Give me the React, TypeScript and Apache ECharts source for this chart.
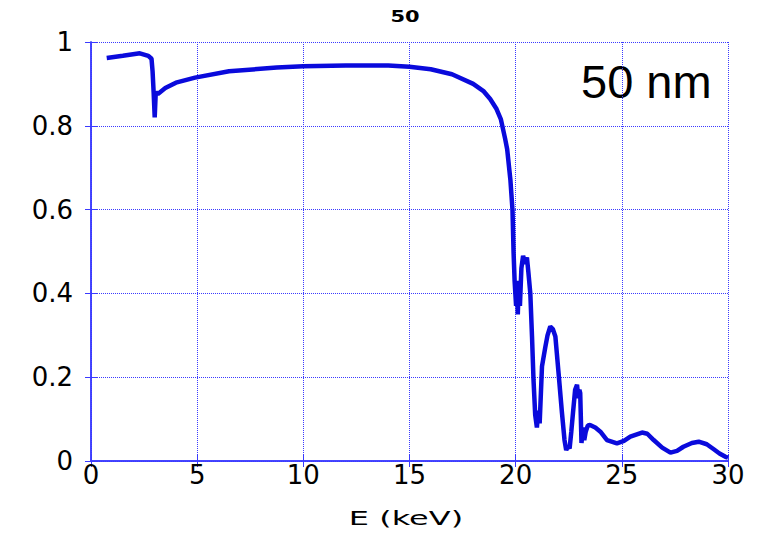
import React, { useEffect, useRef } from "react";
import * as echarts from "echarts";

const energy = [
  0.74, 1.5, 2.3, 2.7, 2.85, 2.9, 2.95, 3.0, 3.05, 3.15, 3.5, 4.0, 4.9, 6.5, 8.75, 10, 12, 14, 15, 16, 17, 18, 18.5,
  18.8, 19.1, 19.3, 19.5, 19.6, 19.75, 19.85, 19.9, 19.95, 20.02, 20.06, 20.1, 20.15, 20.2, 20.27, 20.35, 20.45,
  20.53, 20.6, 20.69, 20.77, 20.84, 20.92, 21.0, 21.06, 21.13, 21.24, 21.4, 21.5, 21.63, 21.75, 21.87, 22.02, 22.18,
  22.3, 22.38, 22.46, 22.54, 22.62, 22.7, 22.8, 22.89, 22.95, 23.0, 23.04, 23.1, 23.17, 23.23, 23.3, 23.4, 23.5,
  23.75, 23.99, 24.3, 24.77, 25.1, 25.4, 25.95, 26.2, 26.5, 26.9, 27.29, 27.6, 27.9, 28.3, 28.62, 29.0, 29.33, 29.6,
  29.88, 30,
];
const transmission = [
  0.962, 0.967, 0.973, 0.967, 0.96, 0.93, 0.88, 0.82, 0.88, 0.876, 0.89, 0.903, 0.915, 0.93, 0.939, 0.942, 0.944,
  0.944, 0.941, 0.935, 0.923, 0.9, 0.882, 0.864, 0.84, 0.816, 0.77, 0.744, 0.672, 0.6, 0.5, 0.43, 0.37, 0.42, 0.35,
  0.43, 0.37, 0.46, 0.49, 0.47, 0.486, 0.45, 0.4, 0.297, 0.194, 0.11, 0.08, 0.12, 0.09, 0.226, 0.273, 0.3, 0.321,
  0.315, 0.297, 0.21, 0.115, 0.05, 0.026, 0.035, 0.03, 0.07, 0.115, 0.17, 0.182, 0.15, 0.17, 0.162, 0.043, 0.08,
  0.05, 0.07, 0.085, 0.086, 0.08, 0.07, 0.05, 0.042, 0.048, 0.058, 0.068, 0.065, 0.05, 0.032, 0.02, 0.024, 0.034,
  0.043, 0.046, 0.04, 0.028, 0.018, 0.01, 0.008,
];
const yTickLabels: Record<string, string> = { "0": "0", "0.2": "0.2", "0.4": "0.4", "0.6": "0.6", "0.8": "0.8", "1": "1" };
const titleText = "50";
const annotationText = "50 nm";
const xAxisTitle = "E (keV)";

const BLUE = "#3a3aff";
const WIDE_FONT = "DejaVu Sans, Verdana, sans-serif";
const FONT = "Liberation Sans, Arial, sans-serif";

export default function App() {
  const ref = useRef<HTMLDivElement>(null);
  useEffect(() => {
    if (!ref.current) return;
    const chart = echarts.init(ref.current, undefined, { renderer: "svg" });
    const data = energy.map((e, i) => [e, transmission[i]]);
    const sideAxis = {
      axisLine: { show: true, lineStyle: { color: BLUE, width: 1.5 } },
      axisTick: { show: true, inside: true, length: 6, lineStyle: { color: BLUE } },
      axisLabel: { show: false },
      splitLine: { show: false },
    };
    chart.setOption({
      animation: false,
      backgroundColor: "#ffffff",
      graphic: [
        {
          type: "text",
          x: 405,
          y: 9,
          scaleX: 1.4,
          style: {
            text: titleText,
            x: 0,
            y: 0,
            align: "center",
            verticalAlign: "top",
            fontSize: 15,
            fontWeight: "bold",
            fill: "#000",
            fontFamily: WIDE_FONT,
          },
        },
        {
          type: "text",
          x: 581,
          y: 58,
          style: { text: annotationText, fontSize: 47, fill: "#000", fontFamily: FONT, verticalAlign: "top" },
        },
        {
          type: "text",
          x: 406,
          y: 508,
          scaleX: 1.6,
          style: {
            text: xAxisTitle,
            x: 0,
            y: 0,
            align: "center",
            verticalAlign: "top",
            fontSize: 20,
            fill: "#000",
            fontFamily: WIDE_FONT,
          },
        },
      ],
      grid: { left: 91, right: 36, top: 42, bottom: 74, containLabel: false },
      xAxis: [
        {
          type: "value",
          min: 0,
          max: 30,
          interval: 5,
          axisLine: { show: true, lineStyle: { color: BLUE, width: 1.5 } },
          axisTick: { show: true, inside: true, length: 6, lineStyle: { color: BLUE } },
          axisLabel: { fontSize: 26, color: "#000", fontFamily: WIDE_FONT, margin: 1 },
          splitLine: { show: true, lineStyle: { color: BLUE, type: "dotted", width: 1 } },
        },
        { type: "value", position: "top", min: 0, max: 30, interval: 5, ...sideAxis },
      ],
      yAxis: [
        {
          type: "value",
          min: 0,
          max: 1,
          interval: 0.2,
          axisLine: { show: true, lineStyle: { color: BLUE, width: 1.5 } },
          axisTick: { show: true, inside: true, length: 6, lineStyle: { color: BLUE } },
          axisLabel: {
            fontSize: 26,
            color: "#000",
            fontFamily: WIDE_FONT,
            margin: 18,
            formatter: (v: number) => yTickLabels[String(Math.round(v * 10) / 10)] ?? String(v),
          },
          splitLine: { show: true, lineStyle: { color: BLUE, type: "dotted", width: 1 } },
        },
        { type: "value", position: "right", min: 0, max: 1, interval: 0.2, ...sideAxis },
      ],
      series: [
        {
          type: "line",
          data,
          showSymbol: false,
          symbol: "none",
          lineStyle: { color: "#0a0adc", width: 4.5 },
          xAxisIndex: 0,
          yAxisIndex: 0,
        },
      ],
    });
    return () => chart.dispose();
  }, []);
  return <div ref={ref} style={{ width: 764, height: 535, position: "absolute", left: 0, top: 0 }} />;
}
